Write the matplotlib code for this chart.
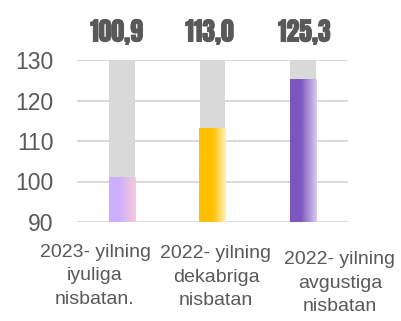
import numpy as np
import matplotlib.pyplot as plt
import matplotlib.patheffects as pe
from matplotlib.colors import LinearSegmentedColormap

# index values, %
values = [100.9, 113.0, 125.3]
value_labels = ["100,9", "113,0", "125,3"]
categories = ["2023- yilning\niyuliga\nnisbatan.",
              "2022- yilning\ndekabriga\nnisbatan",
              "2022- yilning\navgustiga\nnisbatan"]
yticks = [90, 100, 110, 120, 130]
ymin, ymax = 90, 130

# left colour, right colour, where the fade starts
fills = [("#cbaffe", "#f7c8d6", 0.35),
         ("#ffc000", "#fff1b8", 0.50),
         ("#7d56c1", "#d8cced", 0.40)]

TXT = "#595959"
GRID = "#d9d9d9"

fig = plt.figure(figsize=(4.01, 3.21), dpi=100)
ax = fig.add_axes([77 / 401, 1 - 222 / 321, 271 / 401, 162 / 321])

for y in yticks:
    ax.axhline(y, color=GRID, lw=1.4, zorder=0)

x = np.arange(len(values))
# grey background columns up to the top of the scale
ax.bar(x, [ymax - ymin] * len(x), bottom=ymin, width=0.285,
       color="#d9d9d9", zorder=1)

bw = 0.295
grad = np.linspace(0, 1, 256).reshape(1, -1)
nudge = (-0.06, -0.03, 0.02)
for i, (v, (c0, c1, s)) in enumerate(zip(values, fills)):
    cmap = LinearSegmentedColormap.from_list(
        f"g{i}", [(0, c0), (s, c0), (1, c1)])
    ax.imshow(grad, cmap=cmap, aspect="auto", zorder=2,
              extent=(i - bw / 2, i + bw / 2, ymin, v))
    ax.text(i + nudge[i], 1.114, value_labels[i],
            transform=ax.get_xaxis_transform(),
            ha="center", va="baseline", fontsize=18.5,
            family=["Anton", "DejaVu Sans"], color=TXT,
            path_effects=[pe.withStroke(linewidth=0.6, foreground=TXT)])
ax.set_xlim(-0.5, 2.5)
ax.set_ylim(ymin, ymax)

ax.set_yticks(yticks)
ax.set_yticklabels([str(t) for t in yticks], fontsize=16.5,
                   family="Liberation Sans", color=TXT)
ax.tick_params(axis="y", length=0, pad=17)
ax.set_xticks([])
for sp in ax.spines.values():
    sp.set_visible(False)

# category captions sit in free text boxes under the plot
label_pos = [(95, 244), (216, 245), (340, 251)]
for (px, py), lab in zip(label_pos, categories):
    fig.text(px / 401, 1 - py / 321, lab, ha="center", va="top",
             fontsize=14, family="Liberation Sans", color=TXT,
             linespacing=1.5)

fig.savefig("out.png", dpi=100)
